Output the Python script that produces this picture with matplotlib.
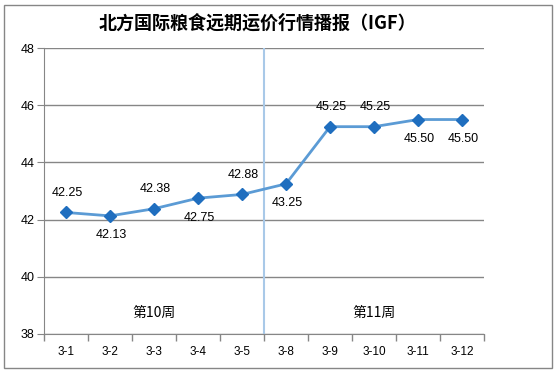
import matplotlib.pyplot as plt
from matplotlib.patches import Rectangle

# data
dates = ['3-1', '3-2', '3-3', '3-4', '3-5', '3-8', '3-9', '3-10', '3-11', '3-12']
prices = [42.25, 42.13, 42.38, 42.75, 42.88, 43.25, 45.25, 45.25, 45.50, 45.50]
label_above = [True, False, True, False, True, False, True, True, False, False]
weeks = ['第10周', '第11周']
week_x = [2.0, 7.0]

plt.rcParams['font.family'] = ['Liberation Sans', 'Noto Sans CJK SC', 'DejaVu Sans']

fig = plt.figure(figsize=(5.57, 3.73), dpi=100)
ax = fig.add_axes([0.079, 0.1046, 0.79, 0.7666])

x = list(range(len(dates)))
ax.plot(x, prices, color='#5B9BD5', linewidth=2, zorder=3)
ax.plot(x, prices, linestyle='none', marker='D', markersize=6.5,
        color='#1F6EBF', zorder=4)

for xi, v, up in zip(x, prices, label_above):
    off = 14 if up else -14
    ax.annotate(f'{v:.2f}', (xi, v), xytext=(1, off), textcoords='offset points',
                ha='center', va='center', fontsize=9, color='black')

# week separator and labels
ax.axvline(4.5, color='#A9C9E8', linewidth=1.5, zorder=2)
for wx, w in zip(week_x, weeks):
    ax.text(wx, 38.72, w, ha='center', va='center', fontsize=10,
            family=['Noto Sans CJK SC', 'DejaVu Sans'])

ax.set_xlim(-0.5, len(dates) - 0.5)
ax.set_ylim(38, 48)
ax.set_yticks(range(38, 49, 2))
ax.set_xticks(x)
ax.set_xticklabels(dates, fontsize=8.5)
ax.set_xticks([i - 0.5 for i in range(len(dates) + 1)], minor=True)
ax.tick_params(axis='x', which='major', length=0, pad=9)
ax.tick_params(axis='x', which='minor', length=5, color='#868686', width=1)
ax.tick_params(axis='y', length=5, color='#868686', labelsize=9, pad=2)

ax.grid(axis='y', color='#868686', linewidth=1)
ax.set_axisbelow(True)
for s in ['top', 'right']:
    ax.spines[s].set_visible(False)
for s in ['left', 'bottom']:
    ax.spines[s].set_color('#868686')

fig.text(0.462, 0.937, '北方国际粮食远期运价行情播报（IGF）', ha='center', va='center',
         fontsize=13, fontweight='bold', family=['Noto Sans CJK SC', 'DejaVu Sans'])

# outer border
fig.patches.append(Rectangle((4 / 557, 5 / 373), 548 / 557, 363 / 373,
                             transform=fig.transFigure, fill=False,
                             edgecolor='#868686', linewidth=1))

fig.savefig('out.png', dpi=100)
